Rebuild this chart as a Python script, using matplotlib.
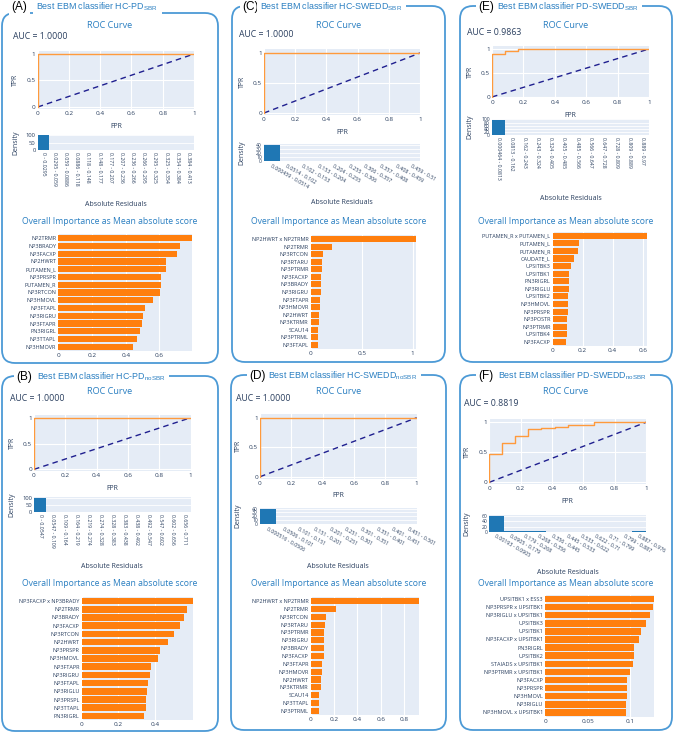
import matplotlib.pyplot as plt
from matplotlib.patches import FancyBboxPatch

# ---------------- data ----------------
auc_A, auc_B, auc_C, auc_D, auc_E, auc_F = 1.0, 1.0, 1.0, 1.0, 0.9863, 0.8819

# ROC step curves
fpr_A = [0, 0, 1]
tpr_A = [0, 1, 1]
fpr_B = [0, 0, 1]
tpr_B = [0, 1, 1]
fpr_C = [0, 0, 1]
tpr_C = [0, 1, 1]
fpr_D = [0, 0, 1]
tpr_D = [0, 1, 1]
fpr_E = [0, 0, 0.083, 0.083, 0.167, 0.167, 0.333, 0.333, 1]
tpr_E = [0, 0.90, 0.90, 0.96, 0.96, 0.99, 0.99, 1, 1]
fpr_F = [0, 0, 0.083, 0.083, 0.167, 0.167, 0.25, 0.25, 0.333, 0.333,
         0.417, 0.417, 0.5, 0.5, 0.667, 0.667, 1]
tpr_F = [0, 0.48, 0.48, 0.66, 0.66, 0.77, 0.77, 0.89, 0.89, 0.91,
         0.91, 0.92, 0.92, 0.96, 0.96, 1, 1]

# residual histograms
bins_A = ["0 - 0.0295", "0.0295 - 0.059", "0.059 - 0.0886", "0.0886 - 0.118",
          "0.118 - 0.148", "0.148 - 0.177", "0.177 - 0.207", "0.207 - 0.236",
          "0.236 - 0.266", "0.266 - 0.295", "0.295 - 0.325", "0.325 - 0.354",
          "0.354 - 0.384", "0.384 - 0.413"]
dens_A = [100, 0, 0, 0, 0, 0, 0, 0, 0, 0, 0, 0, 0, 0]
bins_B = ["0 - 0.0547", "0.0547 - 0.109", "0.109 - 0.164", "0.164 - 0.219",
          "0.219 - 0.274", "0.274 - 0.328", "0.328 - 0.383", "0.383 - 0.438",
          "0.438 - 0.492", "0.492 - 0.547", "0.547 - 0.602", "0.602 - 0.656",
          "0.656 - 0.711"]
dens_B = [100, 3, 0, 0, 0, 1, 0, 0, 0, 0, 0, 0, 0]
bins_C = ["0.000459 - 0.0514", "0.0514 - 0.102", "0.102 - 0.153", "0.153 - 0.204",
          "0.204 - 0.255", "0.255 - 0.306", "0.306 - 0.357", "0.357 - 0.408",
          "0.408 - 0.459", "0.459 - 0.51"]
dens_C = [40, 0, 0, 0, 0, 0, 0, 0, 0, 0]
bins_D = ["0.000516 - 0.0506", "0.0506 - 0.101", "0.101 - 0.151", "0.151 - 0.201",
          "0.201 - 0.251", "0.251 - 0.301", "0.301 - 0.351", "0.351 - 0.401",
          "0.401 - 0.451", "0.451 - 0.501"]
dens_D = [39.5, 0, 0, 0, 0, 0, 0, 0, 0, 0]
bins_E = ["0.000464 - 0.0813", "0.0813 - 0.162", "0.162 - 0.243", "0.243 - 0.324",
          "0.324 - 0.405", "0.405 - 0.485", "0.485 - 0.566", "0.566 - 0.647",
          "0.647 - 0.728", "0.728 - 0.809", "0.809 - 0.889", "0.889 - 0.97"]
dens_E = [98, 0, 0, 0, 1, 0, 1, 0, 0, 0, 0, 0]
bins_F = ["0.00193 - 0.0905", "0.0905 - 0.179", "0.179 - 0.268", "0.268 - 0.356",
          "0.356 - 0.445", "0.445 - 0.533", "0.533 - 0.622", "0.622 - 0.71",
          "0.71 - 0.799", "0.799 - 0.887", "0.887 - 0.976"]
dens_F = [62, 3, 2, 1, 0.5, 0, 0, 0, 0, 0, 1]

# overall importance (mean absolute score)
feat_A = ["NP2TRMR", "NP3BRADY", "NP3FACXP", "NP2HWRT", "PUTAMEN_L", "NP3PRSPR",
          "PUTAMEN_R", "NP3RTCON", "NP3HMOVL", "NP3FTAPL", "NP3RIGRU", "NP3FTAPR",
          "PN3RIGRL", "NP3TTAPL", "NP3HMOVR"]
imp_A = [0.795, 0.722, 0.705, 0.64, 0.637, 0.61, 0.608, 0.604, 0.56, 0.515,
         0.50, 0.495, 0.483, 0.465, 0.442]
feat_B = ["NP3FACXP x NP3BRADY", "NP2TRMR", "NP3BRADY", "NP3FACXP", "NP3RTCON",
          "NP2HWRT", "NP3PRSPR", "NP3HMOVL", "NP3FTAPR", "NP3RIGRU", "NP3FTAPL",
          "NP3RIGLU", "NP3PRSPL", "NP3TTAPL", "PN3RIGRL"]
imp_B = [0.605, 0.576, 0.556, 0.536, 0.504, 0.469, 0.427, 0.418, 0.376, 0.373,
         0.36, 0.355, 0.351, 0.349, 0.34]
feat_C = ["NP2HWRT x NP2TRMR", "NP2TRMR", "NP3RTCON", "NP3RTARU", "NP3PTRMR",
          "NP3FACXP", "NP3BRADY", "NP3RIGRU", "NP3FTAPR", "NP3HMOVR", "NP2HWRT",
          "NP3KTRMR", "SCAU14", "NP3PTRML", "NP3FTAPL"]
imp_C = [1.032, 0.206, 0.124, 0.114, 0.108, 0.105, 0.104, 0.10, 0.095, 0.092,
         0.085, 0.082, 0.075, 0.072, 0.07]
feat_D = ["NP2HWRT x NP2TRMR", "NP2TRMR", "NP3RTCON", "NP3RTARU", "NP3PTRMR",
          "NP3RIGRU", "NP3BRADY", "NP3FACXP", "NP3FTAPR", "NP3HMOVR", "NP2HWRT",
          "NP3KTRMR", "SCAU14", "NP3TTAPL", "NP3PTRML"]
imp_D = [0.926, 0.22, 0.131, 0.123, 0.114, 0.114, 0.111, 0.111, 0.097, 0.094,
         0.089, 0.086, 0.074, 0.074, 0.071]
feat_E = ["PUTAMEN_R x PUTAMEN_L", "PUTAMEN_L", "PUTAMEN_R", "CAUDATE_L", "UPSITBK3",
          "UPSITBK1", "PN3RIGRL", "NP3RIGLU", "UPSITBK2", "NP3HMOVL", "NP3PRSPR",
          "NP3POSTR", "NP3PTRMR", "UPSITBK4", "NP3FACXP"]
imp_E = [0.631, 0.176, 0.169, 0.144, 0.122, 0.111, 0.111, 0.107, 0.104, 0.102,
         0.102, 0.098, 0.093, 0.093, 0.091]
feat_F = ["UPSITBK1 x ESS3", "NP3PRSPR x UPSITBK1", "NP3RIGLU x UPSITBK1", "UPSITBK3",
          "UPSITBK1", "NP3FACXP x UPSITBK1", "PN3RIGRL", "UPSITBK2",
          "STAIADS x UPSITBK1", "NP3PTRMR x UPSITBK1", "NP3FACXP", "NP3PRSPR",
          "NP3HMOVL", "NP3RIGLU", "NP3HMOVL x UPSITBK1"]
imp_F = [0.1277, 0.126, 0.123, 0.118, 0.112, 0.110, 0.104, 0.104, 0.1035, 0.099,
         0.0965, 0.096, 0.0957, 0.0953, 0.095]

panels = [
    dict(letter="A", name="HC-PD", sub="SBR", auc=auc_A, fpr=fpr_A, tpr=tpr_A,
         bins=bins_A, dens=dens_A, feat=feat_A, imp=imp_A),
    dict(letter="B", name="HC-PD", sub="noSBR", auc=auc_B, fpr=fpr_B, tpr=tpr_B,
         bins=bins_B, dens=dens_B, feat=feat_B, imp=imp_B),
    dict(letter="C", name="HC-SWEDD", sub="SBR", auc=auc_C, fpr=fpr_C, tpr=tpr_C,
         bins=bins_C, dens=dens_C, feat=feat_C, imp=imp_C),
    dict(letter="D", name="HC-SWEDD", sub="noSBR", auc=auc_D, fpr=fpr_D, tpr=tpr_D,
         bins=bins_D, dens=dens_D, feat=feat_D, imp=imp_D),
    dict(letter="E", name="PD-SWEDD", sub="SBR", auc=auc_E, fpr=fpr_E, tpr=tpr_E,
         bins=bins_E, dens=dens_E, feat=feat_E, imp=imp_E),
    dict(letter="F", name="PD-SWEDD", sub="noSBR", auc=auc_F, fpr=fpr_F, tpr=tpr_F,
         bins=bins_F, dens=dens_F, feat=feat_F, imp=imp_F),
]

# ---------------- layout (pixels) ----------------
layout = {
    "A": dict(box=(2, 13, 218, 363), title=(12.5, 7, 36.5), auc=(13, 36), roc_t=25,
              roc=(37.7, 50.8, 194, 108.6), hist=(37.7, 134.5, 194, 150), rot=-90,
              hticks=[0, 50, 100], resid=204, imp_t=221,
              bar=(58.3, 234.2, 192.3, 350.8), bticks=[0, 0.2, 0.4, 0.6]),
    "B": dict(box=(2, 376, 218, 731), title=(17, 377, 37), auc=(10, 398), roc_t=391,
              roc=(34, 414.6, 190.7, 470.9), hist=(34, 497, 190.7, 512.3), rot=-90,
              hticks=[0, 50, 100], resid=566, imp_t=583,
              bar=(81.7, 596.9, 192.7, 720.1), bticks=[0, 0.2, 0.4]),
    "C": dict(box=(232, 6, 445, 362), title=(243, 7, 260), auc=(239, 34), roc_t=25,
              roc=(264, 49.4, 420, 114.8), hist=(264, 144, 420, 161), rot=-30,
              hticks=[0, 10, 20, 30, 40], resid=202, imp_t=221,
              bar=(310.7, 235.2, 416, 348.8), bticks=[0, 0.5, 1]),
    "D": dict(box=(231, 375, 446, 730), title=(250, 376, 268), auc=(235.7, 398),
              roc_t=391, roc=(260, 414.2, 416.7, 478.5), hist=(260, 508, 416.7, 524),
              rot=-30, hticks=[0, 10, 20, 30, 40], resid=566, imp_t=583,
              bar=(310.7, 597.2, 418.7, 714.8), bticks=[0, 0.2, 0.4, 0.6, 0.8]),
    "E": dict(box=(460, 6, 672, 362), title=(479, 7, 497), auc=(467, 32), roc_t=25,
              roc=(492, 46.1, 649, 98.4), hist=(492, 119, 649, 135), rot=-90,
              hticks=[0, 20, 40, 60, 80, 100], resid=198, imp_t=221,
              bar=(552.7, 231.9, 647.3, 345.8), bticks=[0, 0.2, 0.4, 0.6]),
    "F": dict(box=(460, 375, 672, 730), title=(479, 376, 498), auc=(464, 403.3),
              roc_t=391, roc=(489.3, 418.7, 646, 484.1), hist=(489.3, 515, 646, 531.7),
              rot=-30, hticks=[0, 20, 40, 60], resid=572, imp_t=583,
              bar=(545, 594.9, 654, 716.5), bticks=[0, 0.05, 0.1]),
}

BLUE = "#2a7fc1"
EDGE = "#4c9ad6"
INK = "#2a3f5f"
BG = "#e5ecf6"
ORANGE = "#ff7f0e"

plt.rcParams['font.family'] = ['Open Sans', 'DejaVu Sans']
plt.rcParams['mathtext.default'] = 'regular'

W, H = 676, 735
fig = plt.figure(figsize=(W / 100, H / 100), dpi=100)


def px_axes(l, t, r, b):
    return fig.add_axes([l / W, 1 - b / H, (r - l) / W, (b - t) / H])


def plotly_style(ax):
    ax.set_facecolor(BG)
    for s in ax.spines.values():
        s.set_visible(False)
    ax.tick_params(length=0, colors=INK, pad=1.5)
    ax.set_axisbelow(True)


over = px_axes(0, 0, W, H)
over.set_xlim(0, W)
over.set_ylim(H, 0)
over.axis('off')

for p in panels:
    L = layout[p["letter"]]
    bl, bt, br, bb = L["box"]
    cx = (bl + br) / 2
    over.add_patch(FancyBboxPatch((bl, bt), br - bl, bb - bt,
                                  boxstyle="round,pad=0,rounding_size=13",
                                  fc="none", ec=EDGE, lw=1.3))
    lx, ty, tx = L["title"]
    over.text(lx - 1, ty, f"({p['letter']})", fontsize=8.5, color="black",
              family="Liberation Sans", ha="left", va="center",
              bbox=dict(fc="white", ec="none", pad=1.5))
    over.text(tx, ty, f"Best EBM classifier {p['name']}$_{{{p['sub']}}}$",
              fontsize=6.4, color=BLUE, family="Liberation Sans",
              ha="left", va="center", bbox=dict(fc="white", ec="none", pad=2.5))

    over.text(cx, L["roc_t"], "ROC Curve", fontsize=6.6, color=BLUE,
              ha="center", va="center")
    over.text(L["auc"][0], L["auc"][1], f"AUC = {p['auc']:.4f}", fontsize=6.3,
              color=INK, ha="left", va="center")

    # ROC
    rl, rt, rr, rb = L["roc"]
    ax = px_axes(*L["roc"])
    plotly_style(ax)
    ax.plot([0, 1], [0, 1], color="#1f1f8f", lw=1, ls=(0, (4, 3)))
    ax.plot(p["fpr"], p["tpr"], color="#ff9a3c", lw=1)
    ax.set_xlim(0, 1)
    ax.set_ylim(-0.03, 1.06)
    ax.set_xticks([0, 0.2, 0.4, 0.6, 0.8, 1])
    ax.set_xticklabels(["0", "0.2", "0.4", "0.6", "0.8", "1"])
    ax.set_yticks([0, 0.5, 1])
    ax.set_yticklabels(["0", "0.5", "1"])
    ax.tick_params(labelsize=4.6)
    ax.grid(color="white", lw=0.8)
    zero_y = rb - 0.03 / 1.09 * (rb - rt)
    over.text((rl + rr) / 2, zero_y + 19, "FPR", fontsize=5, color=INK,
              ha="center", va="center")
    over.text(rl - 22, (rt + rb) / 2, "TPR", fontsize=5, color=INK,
              ha="center", va="center", rotation=90)

    # residual histogram
    hl, ht, hr, hb = L["hist"]
    ax = px_axes(*L["hist"])
    plotly_style(ax)
    n = len(p["bins"])
    ax.bar(range(n), p["dens"], width=1, color="#1f77b4")
    ax.set_xlim(-0.5, n - 0.5)
    ax.set_ylim(0, max(p["dens"]) * 1.05)
    ax.set_yticks(L["hticks"])
    ax.tick_params(axis="y", labelsize=4.2 if len(L["hticks"]) <= 3 else 3.6)
    ax.grid(axis="y", color="white", lw=0.6)
    ax.set_xticks(range(n))
    if L["rot"] == -90:
        ax.set_xticklabels(p["bins"], rotation=-90, fontsize=3.7, ha="center", va="top")
    else:
        ax.set_xticklabels(p["bins"], rotation=-30, fontsize=3.8, ha="left", va="top",
                           rotation_mode="anchor")
    over.text(hl - 22, (ht + hb) / 2, "Density", fontsize=5, color=INK,
              ha="center", va="center", rotation=90)
    over.text((hl + hr) / 2, L["resid"], "Absolute Residuals", fontsize=5,
              color=INK, ha="center", va="center")

    # overall importance bars
    over.text(cx, L["imp_t"], "Overall Importance as Mean absolute score",
              fontsize=6.2, color=BLUE, ha="center", va="center")
    ax = px_axes(*L["bar"])
    plotly_style(ax)
    m = len(p["feat"])
    ypos = [m - 1 - i for i in range(m)]
    ax.barh(ypos, p["imp"], height=0.8, color=ORANGE)
    ax.set_ylim(-0.5, m - 0.5)
    ax.set_xlim(0, max(p["imp"]))
    ax.set_yticks(ypos)
    ax.set_yticklabels(p["feat"], fontsize=4)
    ax.set_xticks(L["bticks"])
    ax.set_xticklabels([f"{v:g}" for v in L["bticks"]])
    ax.tick_params(axis="x", labelsize=4.6)
    ax.grid(axis="x", color="white", lw=0.8)

fig.savefig("out.png", dpi=100)
